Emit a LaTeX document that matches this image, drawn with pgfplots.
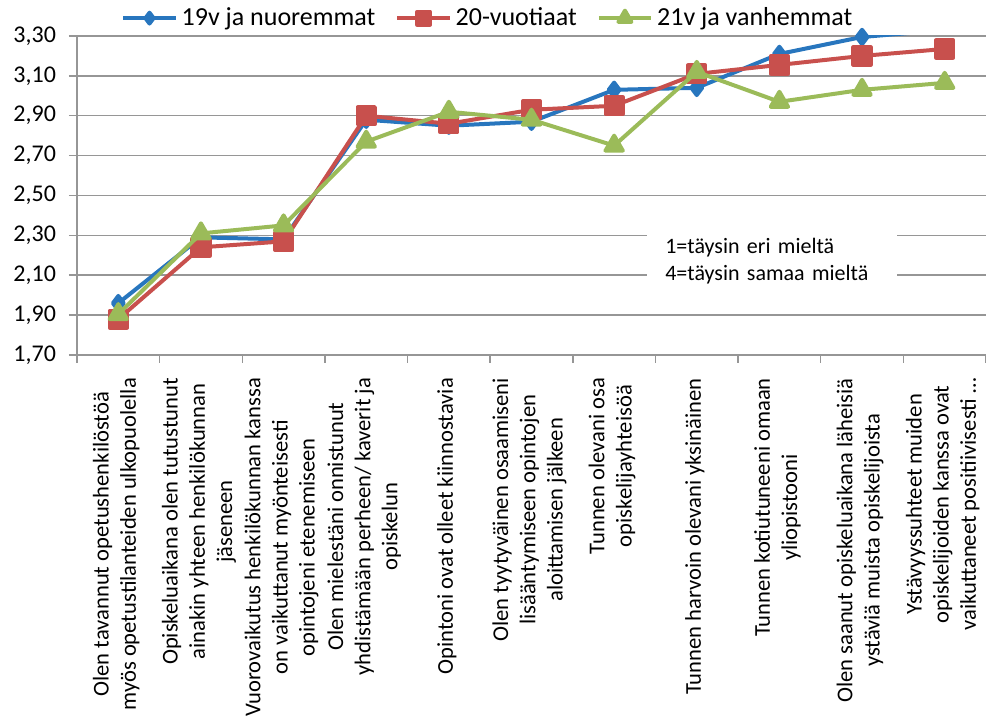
\documentclass[border=0pt]{standalone}
\usepackage{pgfplots}
\pgfplotsset{compat=1.18}
\usepackage{fontspec}
\setmainfont{Carlito}
\definecolor{serblue}{RGB}{40,118,190}
\definecolor{serred}{RGB}{200,80,77}
\definecolor{sergreen}{RGB}{155,187,89}
\definecolor{gridgray}{RGB}{150,150,150}

\begin{document}
\begin{tikzpicture}
\begin{axis}[
    name=ax,
    scale only axis,
    width=454.5pt, height=159.5pt,
    xmin=0.5, xmax=11.5,
    ymin=1.7, ymax=3.3,
    ytick={1.7,1.9,2.1,2.3,2.5,2.7,2.9,3.1,3.3},
    yticklabel style={font=\fontsize{12}{14}\selectfont, xshift=-3pt,
        /pgf/number format/.cd, fixed, fixed zerofill, precision=2, use comma, assume math mode=true},
    xtick={0.5,1.5,2.5,3.5,4.5,5.5,6.5,7.5,8.5,9.5,10.5,11.5},
    x tick label as interval,
    xticklabels={
        {Olen tavannut opetushenkilöstöä\\myös opetustilanteiden ulkopuolella},
        {Opiskeluaikana olen tutustunut\\ainakin yhteen henkilökunnan\\jäseneen},
        {Vuorovaikutus henkilökunnan kanssa\\on vaikuttanut myönteisesti\\opintojeni etenemiseen},
        {Olen mielestäni onnistunut\\yhdistämään perheen/ kaverit ja\\opiskelun},
        {Opintoni ovat olleet kiinnostavia},
        {Olen tyytyväinen osaamiseni\\lisääntymiseen opintojen\\aloittamisen jälkeen},
        {Tunnen olevani osa\\opiskelijayhteisöä},
        {Tunnen harvoin olevani yksinäinen},
        {Tunnen kotiutuneeni omaan\\yliopistooni},
        {Olen saanut opiskeluaikana läheisiä\\ystäviä muista opiskelijoista},
        {Ystävyyssuhteet muiden\\opiskelijoiden kanssa ovat\\vaikuttaneet positiivisesti \ldots}
    },
    xticklabel style={yshift=-4pt, xshift=-1pt, rotate=90, anchor=east, align=center,
        font=\fontsize{11.3}{13.6}\selectfont},
    tick align=outside,
    major tick length=4pt,
    tick style={gridgray, line width=0.75pt},
    axis x line*=bottom,
    axis y line*=left,
    axis line style={gridgray, line width=0.75pt},
    ymajorgrids=true,
    grid style={gridgray, line width=0.75pt},
    clip mode=individual,
    legend columns=3,
    legend style={at={(0.453,1.056)}, anchor=center, draw=none, fill=none,
        font=\fontsize{13}{15}\selectfont,
        /tikz/every even column/.append style={column sep=8pt}},
    legend image code/.code={
        \draw[line width=2pt] (0cm,0cm) -- (0.92cm,0cm);
        \draw[mark size=0.75\pgfplotmarksize] plot coordinates {(0.46cm,0cm)};},
]
\addplot[serblue, line width=2pt, mark=diamond*, mark size=3.6pt,
    mark indices={1,2,3,4,5,6,7,8,9,10}, line join=round]
coordinates {
    (1,1.96) (2,2.29) (3,2.28) (4,2.88) (5,2.85) (6,2.87)
    (7,3.03) (8,3.04) (9,3.21) (10,3.295) (11,3.33)
};
\addplot[serred, line width=2pt, mark=square*, mark size=4.3pt, line join=round]
coordinates {
    (1,1.88) (2,2.24) (3,2.27) (4,2.90) (5,2.86) (6,2.93)
    (7,2.95) (8,3.11) (9,3.155) (10,3.20) (11,3.235)
};
\addplot[sergreen, line width=2pt, mark=triangle*, mark size=5pt, line join=round]
coordinates {
    (1,1.905) (2,2.31) (3,2.35) (4,2.77) (5,2.92) (6,2.88)
    (7,2.75) (8,3.12) (9,2.97) (10,3.03) (11,3.065)
};
\legend{19v ja nuoremmat, 20-vuotiaat, 21v ja vanhemmat}

\node[fill=white, anchor=west, align=left, inner xsep=9pt, inner ysep=5pt,
    text width=107pt, font=\fontsize{11}{13.5}\selectfont]
    at (rel axis cs:0.627,0.293) {1=täysin eri mieltä\\4=täysin samaa mieltä};
\end{axis}
\pgfresetboundingbox
\path ([xshift=-38.5pt,yshift=-180.5pt]ax.south west) rectangle ([yshift=18pt]ax.north east);
\end{tikzpicture}
\end{document}
